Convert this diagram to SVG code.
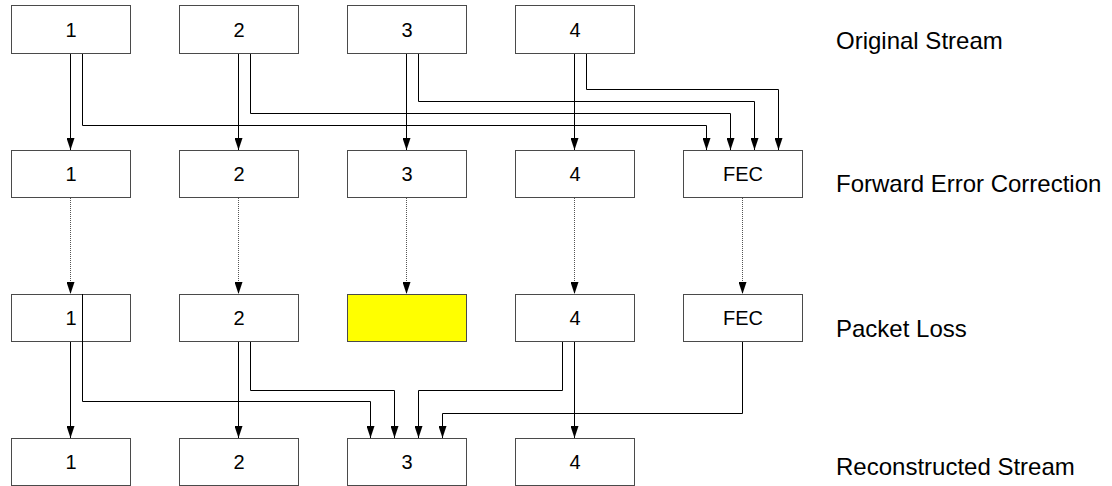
<svg xmlns="http://www.w3.org/2000/svg" width="1112" height="486" viewBox="0 0 1112 486">
<defs>
<marker id="arr" viewBox="0 0 12 8" refX="12" refY="4" markerWidth="12" markerHeight="8" markerUnits="userSpaceOnUse" orient="auto"><path d="M0,0 L12,4 L0,8 z" fill="#000"/></marker>
<style>
.box{fill:#fff;stroke:#4a4a4a;stroke-width:1}
.lost{fill:#ffff00;stroke:#4a4a4a;stroke-width:1}
.bt{font-family:"Liberation Sans",Arial,sans-serif;font-size:20px;fill:#000;text-anchor:middle}
.lbl{font-family:"Liberation Sans",Arial,sans-serif;font-size:24px;fill:#000}
.ln{fill:none;stroke:#000;stroke-width:1}
.dot{fill:none;stroke:#555;stroke-width:1;stroke-dasharray:1,1}
</style>
</defs>
<rect width="1112" height="486" fill="#fff"/>
<g id="row1">
<g id="o1"><rect class="box" x="11.5" y="5.5" width="119" height="48"/><text class="bt" x="71" y="36.5">1</text></g>
<g id="o2"><rect class="box" x="179.5" y="5.5" width="119" height="48"/><text class="bt" x="239" y="36.5">2</text></g>
<g id="o3"><rect class="box" x="347.5" y="5.5" width="119" height="48"/><text class="bt" x="407" y="36.5">3</text></g>
<g id="o4"><rect class="box" x="515.5" y="5.5" width="119" height="48"/><text class="bt" x="575" y="36.5">4</text></g>
</g>
<g id="row2">
<g id="f1"><rect class="box" x="11.5" y="150.5" width="119" height="47"/><text class="bt" x="71" y="181">1</text></g>
<g id="f2"><rect class="box" x="179.5" y="150.5" width="119" height="47"/><text class="bt" x="239" y="181">2</text></g>
<g id="f3"><rect class="box" x="347.5" y="150.5" width="119" height="47"/><text class="bt" x="407" y="181">3</text></g>
<g id="f4"><rect class="box" x="515.5" y="150.5" width="119" height="47"/><text class="bt" x="575" y="181">4</text></g>
<g id="f5"><rect class="box" x="683.5" y="150.5" width="119" height="47"/><text class="bt" x="743" y="181">FEC</text></g>
</g>
<g id="row3">
<g id="p1"><rect class="box" x="11.5" y="294.5" width="119" height="47"/><text class="bt" x="71" y="325">1</text></g>
<g id="p2"><rect class="box" x="179.5" y="294.5" width="119" height="47"/><text class="bt" x="239" y="325">2</text></g>
<g id="p3"><rect class="lost" x="347.5" y="294.5" width="119" height="47"/></g>
<g id="p4"><rect class="box" x="515.5" y="294.5" width="119" height="47"/><text class="bt" x="575" y="325">4</text></g>
<g id="p5"><rect class="box" x="683.5" y="294.5" width="119" height="47"/><text class="bt" x="743" y="325">FEC</text></g>
</g>
<g id="row4">
<g id="r1"><rect class="box" x="11.5" y="438.5" width="119" height="47"/><text class="bt" x="71" y="469">1</text></g>
<g id="r2"><rect class="box" x="179.5" y="438.5" width="119" height="47"/><text class="bt" x="239" y="469">2</text></g>
<g id="r3"><rect class="box" x="347.5" y="438.5" width="119" height="47"/><text class="bt" x="407" y="469">3</text></g>
<g id="r4"><rect class="box" x="515.5" y="438.5" width="119" height="47"/><text class="bt" x="575" y="469">4</text></g>
</g>
<g id="labels">
<text class="lbl" x="836" y="49">Original Stream</text>
<text class="lbl" x="836" y="192">Forward Error Correction</text>
<text class="lbl" x="836" y="337">Packet Loss</text>
<text class="lbl" x="836" y="475">Reconstructed Stream</text>
</g>
<g id="connectors">
<path class="ln" marker-end="url(#arr)" d="M70.5,54 V150"/>
<path class="ln" marker-end="url(#arr)" d="M238.5,54 V150"/>
<path class="ln" marker-end="url(#arr)" d="M406.5,54 V150"/>
<path class="ln" marker-end="url(#arr)" d="M574.5,54 V150"/>
<path class="ln" marker-end="url(#arr)" d="M82.5,54 V125.5 H706.5 V150"/>
<path class="ln" marker-end="url(#arr)" d="M250.5,54 V113.5 H730.5 V150"/>
<path class="ln" marker-end="url(#arr)" d="M418.5,54 V101.5 H754.5 V150"/>
<path class="ln" marker-end="url(#arr)" d="M586.5,54 V89.5 H778.5 V150"/>
<path class="dot" marker-end="url(#arr)" d="M70.5,198 V294"/>
<path class="dot" marker-end="url(#arr)" d="M238.5,198 V294"/>
<path class="dot" marker-end="url(#arr)" d="M406.5,198 V294"/>
<path class="dot" marker-end="url(#arr)" d="M574.5,198 V294"/>
<path class="dot" marker-end="url(#arr)" d="M742.5,198 V294"/>
<path class="ln" marker-end="url(#arr)" d="M70.5,342 V438"/>
<path class="ln" marker-end="url(#arr)" d="M238.5,342 V438"/>
<path class="ln" marker-end="url(#arr)" d="M574.5,342 V438"/>
<path class="ln" marker-end="url(#arr)" d="M82.5,294 V401.5 H370.5 V438"/>
<path class="ln" marker-end="url(#arr)" d="M250.5,342 V390.5 H394.5 V438"/>
<path class="ln" marker-end="url(#arr)" d="M562.5,342 V390.5 H418.5 V438"/>
<path class="ln" marker-end="url(#arr)" d="M742.5,342 V413.5 H442.5 V438"/>
</g>
</svg>
